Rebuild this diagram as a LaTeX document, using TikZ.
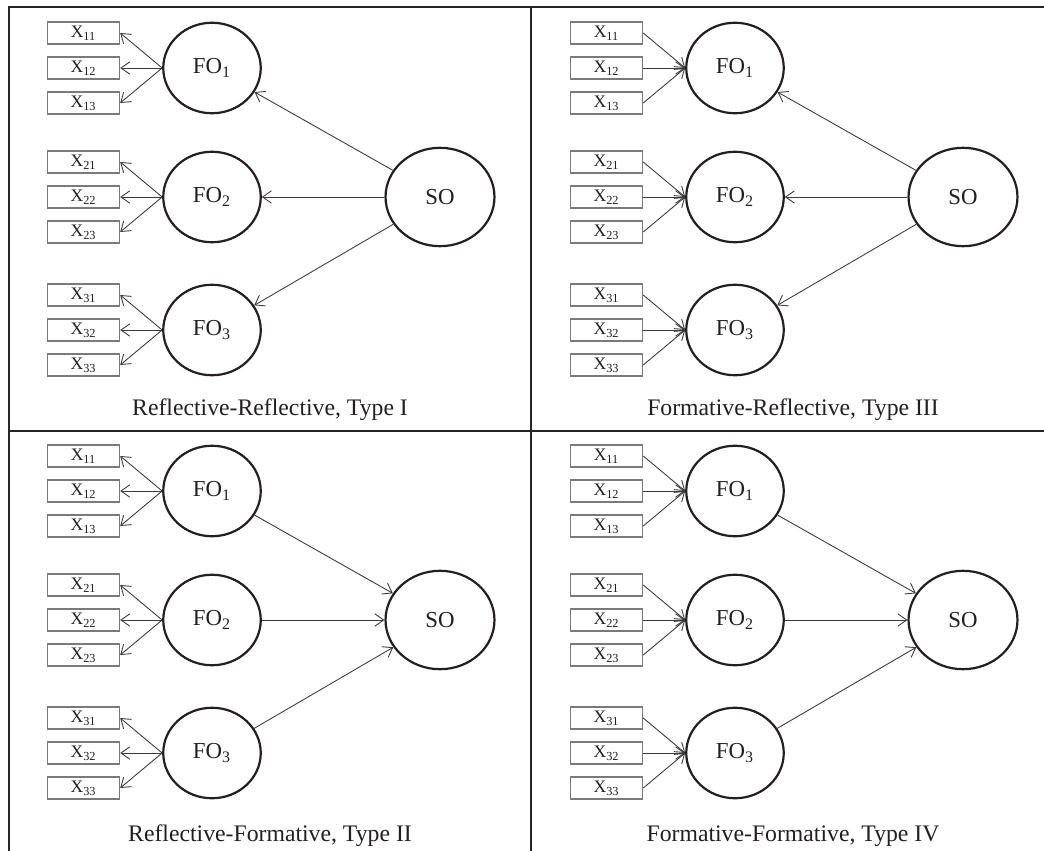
\documentclass[tikz,border=0pt]{standalone}
\usepackage{fontspec}
\setmainfont{Liberation Serif}
\usetikzlibrary{arrows.meta,shapes.geometric}
\definecolor{Ink}{HTML}{231F20}
\definecolor{Frame}{HTML}{262626}
\definecolor{BoxLine}{HTML}{7A7A7A}
\definecolor{Wire}{HTML}{3A3A3A}
\newcommand{\semcase}[6]{% prefix, shift, indicators (1 = reflective), second order (1 = reflective), caption, caption y
  \begin{scope}[shift={#2}]
    \node[second] (#1so) at (440,197) {SO};
    \foreach \i/\yy in {1/68,2/197,3/330}{
      \node[factor] (#1fo\i) at (212,\yy) {FO\textsubscript{\i}};
      \foreach \j/\dy in {1/-35,2/0,3/35}{
        \node[item] (#1x\i\j) at (83.5,\yy+\dy) {X\textsubscript{\i\j}};
        \ifnum#3=1
          \draw[link] (#1fo\i.west) -- (#1x\i\j.east);
        \else
          \draw[link] (#1x\i\j.east) -- (#1fo\i.west);
        \fi
      }
      \ifnum#4=1
        \draw[link] (#1so) -- (#1fo\i);
      \else
        \draw[link] (#1fo\i) -- (#1so);
      \fi
    }
    \node[caption] (#1cap) at (270,#6) {#5};
  \end{scope}%
}
\tikzset{
  item/.style={
    rectangle,draw=BoxLine,line width=0.8pt,minimum width=41pt,
    minimum height=12.5pt,inner sep=0pt,text=Ink,
    font=\fontsize{10}{11}\selectfont
  },
  factor/.style={
    ellipse,draw=Ink,line width=1.25pt,minimum width=55.5pt,
    minimum height=51.5pt,inner sep=0pt,text=Ink,
    font=\fontsize{13}{15}\selectfont
  },
  second/.style={factor,minimum width=62pt,minimum height=56pt},
  link/.style={-{Straight Barb[length=5pt,width=7pt]},line width=0.5pt,draw=Wire},
  frame/.style={line width=1.4pt,draw=Frame},
  caption/.style={text=Ink,font=\fontsize{13.5}{15}\selectfont}
}
\begin{document}
\begin{tikzpicture}[x=0.02cm,y=-0.02cm]
  \useasboundingbox (0,0) rectangle (1044,851);
  \draw[frame] (9,851) |- (1044,7);
  \draw[frame] (531,7) -- (531,851);
  \draw[frame] (9,431) -- (1044,431);
  \semcase{a}{(0,0)}{1}{1}{Reflective-Reflective, Type I}{410}
  \semcase{b}{(523,0)}{0}{1}{Formative-Reflective, Type III}{410}
  \semcase{c}{(0,423)}{1}{0}{Reflective-Formative, Type II}{413}
  \semcase{d}{(523,423)}{0}{0}{Formative-Formative, Type IV}{413}
\end{tikzpicture}
\end{document}
